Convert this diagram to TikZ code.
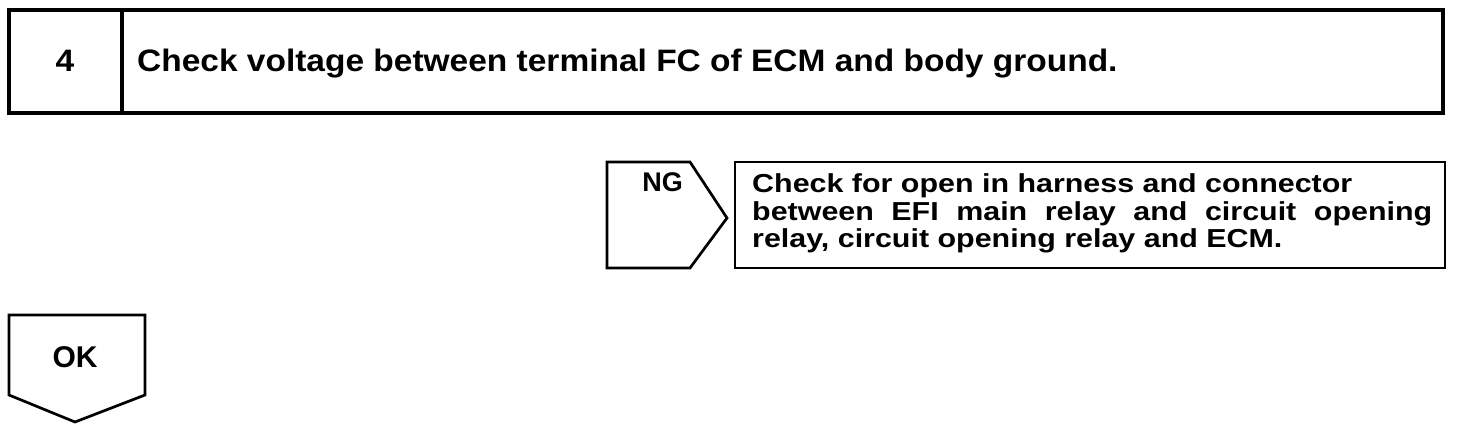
\documentclass[tikz,border=0pt]{standalone}
\usepackage{fontspec}
\setmainfont{Liberation Sans}
\newfontfamily\titlefam{Liberation Sans}[FakeStretch=1.08]
\newfontfamily\bodyfam{Liberation Sans}[FakeStretch=1.17]
\begin{document}
\begin{tikzpicture}[x=1pt,y=-1pt,
  thickbox/.style={line width=4pt},
  thinbox/.style={line width=2.7pt, line join=miter},
  lbl/.style={inner sep=0pt},
  titlelbl/.style={lbl, font=\titlefam\fontsize{31}{31}\selectfont\bfseries},
  bodylbl/.style={lbl, font=\bodyfam\fontsize{26}{27.5}\selectfont\bfseries},
  arrowlbl/.style={lbl, font=\fontsize{27}{27}\selectfont\bfseries}]
\useasboundingbox (0,0) rectangle (1472,430);
% top step box
\draw[thickbox] (9,10) rectangle (1443,113);
\draw[thickbox] (122,10) -- (122,113);
\node[titlelbl, anchor=base] (num) at (65,72) {4};
\node[titlelbl, anchor=base west] (title) at (137,72) {Check voltage between terminal FC of ECM and body ground.};
% NG arrow
\coordinate (ngA) at (607,162);
\coordinate (ngB) at (690,162);
\coordinate (ngT) at (727,218);
\coordinate (ngC) at (690,268);
\coordinate (ngD) at (607,268);
\draw[thinbox] (ngA) -- (ngB) -- (ngT) -- (ngC) -- (ngD) -- cycle;
\node[arrowlbl, anchor=base east] (ng) at (683,192) {NG};
% NG result box
\draw[thinbox] (735,162) rectangle (1445,268);
\node[bodylbl, anchor=base west, align=left] (res) at (752,248) {Check for open in harness and connector\\
\makebox[680pt][s]{between EFI main relay and circuit opening}\\
relay, circuit opening relay and ECM.};
% OK arrow
\coordinate (okA) at (9,315);
\coordinate (okB) at (145,315);
\coordinate (okC) at (145,395);
\coordinate (okT) at (75,422);
\coordinate (okD) at (9,395);
\draw[thinbox] (okA) -- (okB) -- (okC) -- (okT) -- (okD) -- cycle;
\node[arrowlbl, font=\fontsize{30}{30}\selectfont\bfseries, anchor=base] (ok) at (75,367) {OK};
\end{tikzpicture}
\end{document}
